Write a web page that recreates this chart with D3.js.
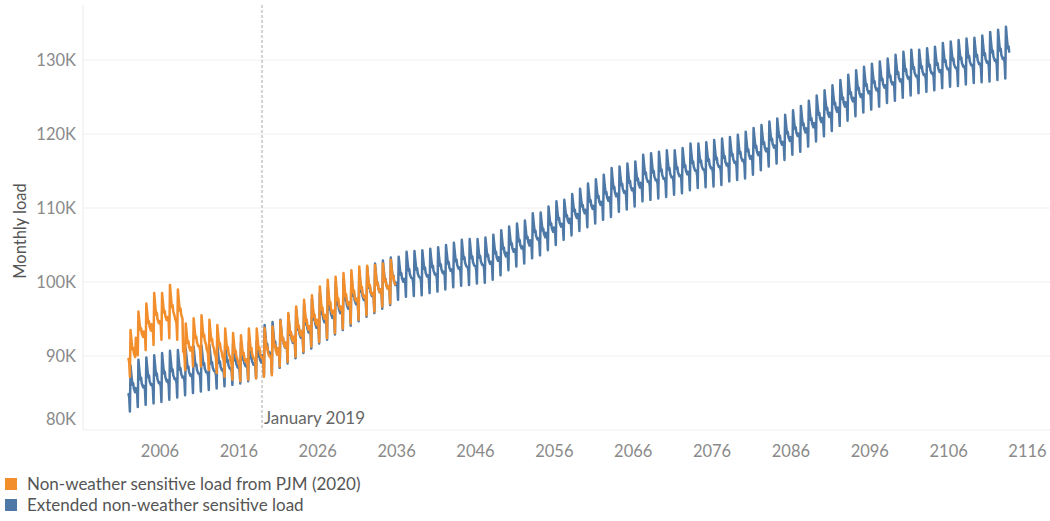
<!DOCTYPE html>
<html>
<head>
<meta charset="utf-8">
<script src="https://cdn.jsdelivr.net/npm/d3@7"></script>
<style>
    body { margin: 0; background: #fff; font-family: Lato, "Open Sans", sans-serif; }
    svg { display: block; }
</style>
</head>
<body>
<div id="chart"></div>
<script>
// share of the yearly swing (trough -> peak) for each calendar month, Jan..Dec
const seasonalShape = [0.40, 0.38, 0.30, 0.0, 1.0, 0.84, 0.70, 0.58, 0.62, 0.50, 0.46, 0.42];

// PJM series, 2002..2035 (values in K)
const pjmStartYear = 2002;
const pjmTrough = [87.2, 90.1, 90.8, 91.5, 92.2, 92.4, 92.2, 88.1, 88.6, 88.6, 88.1, 87.7, 87.2, 86.8, 86.6, 86.8, 87.0,
    87.2, 87.4, 88.6, 89.2, 89.9, 90.6, 91.3, 91.9, 92.4, 93.1, 93.7, 94.4, 94.9, 95.5, 96.0, 96.7, 97.1];
const pjmPeak = [93.5, 96.0, 97.1, 98.5, 98.5, 99.6, 99.0, 94.4, 95.1, 95.5, 94.9, 94.2, 93.7, 93.1, 92.8, 93.7, 93.7,
    93.8, 94.0, 94.8, 95.8, 96.7, 97.6, 98.2, 99.4, 100.3, 100.7, 101.2, 101.6, 102.1, 102.2, 102.3, 102.5, 103.0];
const pjmLastMonth = 11;

// extended series, 2002..2113 (values in K)
const extStartYear = 2002;
const extTrough = [
    82.5, 83.1, 83.4, 83.6, 83.8, 84.1, 84.4, 84.7, 85.0, 85.2, 85.4, 85.6, 85.9, 86.1, 86.3, 86.6, 87.0,
    87.4, 87.7, 88.4, 89.0, 89.7, 90.4, 91.0, 91.7, 92.2, 92.9, 93.5, 94.1, 94.7, 95.3, 95.8, 96.4, 96.9,
    97.6, 98.0, 98.1, 98.2, 98.5, 98.7, 99.0, 99.3, 99.5, 99.6, 99.8, 99.9, 100.3, 100.9, 101.6, 102.1,
    102.5, 103.2, 103.6, 104.3, 105.0, 105.7, 106.3, 106.9, 107.4, 107.9, 108.4, 108.8, 109.5, 109.8,
    110.2, 110.9, 111.1, 111.3, 111.5, 111.8, 112.0, 112.4, 112.7, 112.8, 112.9, 113.1, 113.6, 113.8,
    114.0, 114.5, 115.1, 115.6, 116.0, 116.5, 117.2, 117.6, 118.3, 119.0, 119.7, 120.4, 121.1, 121.8,
    122.4, 122.9, 123.3, 123.7, 124.2, 124.5, 124.9, 125.2, 125.5, 125.7, 125.9, 126.2, 126.4, 126.5,
    126.7, 126.9, 127.0, 127.1, 127.3, 127.5];
const extPeak = [
    88.7, 89.5, 89.8, 90.1, 90.4, 90.7, 90.8, 91.0, 91.3, 91.4, 91.5, 91.5, 91.6, 91.7, 91.8, 91.9, 92.0,
    94.2, 94.6, 94.9, 95.6, 96.3, 97.0, 97.7, 98.5, 99.2, 99.8, 100.4, 101.0, 101.5, 102.0, 102.5, 102.9, 103.3,
    103.4, 104.1, 104.2, 104.3, 104.5, 104.7, 105.0, 105.3, 105.7, 105.8, 105.8, 106.0, 106.4, 107.0, 107.5, 107.9,
    108.3, 109.3, 109.4, 110.2, 110.9, 111.1, 111.9, 112.6, 113.3, 113.9, 114.5, 115.4, 115.6, 116.0,
    116.3, 117.2, 117.4, 117.6, 117.8, 117.8, 118.1, 118.7, 118.7, 118.9, 119.2, 119.4, 119.6, 119.9,
    120.3, 120.8, 121.2, 121.7, 122.1, 122.6, 123.2, 123.8, 124.5, 125.2, 125.9, 126.6, 127.3, 128.0,
    128.6, 129.1, 129.5, 129.8, 130.2, 130.7, 131.1, 131.4, 131.4, 131.6, 131.8, 132.3, 132.5, 132.7,
    132.9, 133.0, 133.3, 133.8, 134.1, 134.5];
const extLastMonth = 9;

const yTicks = [80000, 90000, 100000, 110000, 120000, 130000];
const xTickYears = [2006, 2016, 2026, 2036, 2046, 2056, 2066, 2076, 2086, 2096, 2106, 2116];
const refDate = new Date(2019, 0, 1);
const refLabel = "January 2019";
const seriesNames = ["Non-weather sensitive load from PJM (2020)", "Extended non-weather sensitive load"];
const seriesColors = ["#f28e2b", "#4e79a7"];

function buildSeries(startYear, troughs, peaks, lastMonth) {
    const out = [];
    troughs.forEach((t, i) => {
        const p = peaks[i];
        const n = (i === troughs.length - 1) ? lastMonth + 1 : 12;
        for (let m = 0; m < n; m++) {
            out.push({ date: new Date(startYear + i, m, 1), value: (t + (p - t) * seasonalShape[m]) * 1000 });
        }
    });
    return out;
}

const pjmData = buildSeries(pjmStartYear, pjmTrough, pjmPeak, pjmLastMonth);
const extData = buildSeries(extStartYear, extTrough, extPeak, extLastMonth);

const width = 1050, height = 521;
const plotLeft = 83, plotRight = 1050, plotTop = 5, plotBottom = 430;

const svg = d3.select("#chart").append("svg")
    .attr("width", width)
    .attr("height", height);

const x = d3.scaleTime()
    .domain([new Date(2006, 0, 1), new Date(2116, 0, 1)])
    .range([159.5, 1027]);

const y = d3.scaleLinear()
    .domain([80000, 130000])
    .range([430, 60]);

// grid
svg.append("g")
    .selectAll("line")
    .data(yTicks)
    .join("line")
    .attr("x1", plotLeft)
    .attr("x2", plotRight)
    .attr("y1", d => y(d))
    .attr("y2", d => y(d))
    .attr("stroke", "#efefef");

svg.append("line")
    .attr("x1", plotLeft).attr("x2", plotLeft)
    .attr("y1", plotTop).attr("y2", plotBottom)
    .attr("stroke", "#ececec");

// y axis
const yAxis = svg.append("g")
    .attr("transform", `translate(${plotLeft},0)`)
    .call(d3.axisLeft(y).tickValues(yTicks).tickSize(0).tickPadding(7).tickFormat(d => d / 1000 + "K"));
yAxis.select(".domain").remove();
yAxis.selectAll("text")
    .attr("fill", "#8a8a8a")
    .style("font-family", "Lato, sans-serif")
    .style("font-size", "16.5px")
    .attr("transform", d => d === 80000 ? "translate(0,-11)" : null);

svg.append("text")
    .attr("transform", "translate(26,231) rotate(-90)")
    .attr("text-anchor", "middle")
    .attr("fill", "#555")
    .style("font-size", "16.5px")
    .text("Monthly load");

// x axis
const xAxis = svg.append("g")
    .attr("transform", `translate(0,${plotBottom})`)
    .call(d3.axisBottom(x)
        .tickValues(xTickYears.map(yr => new Date(yr, 0, 1)))
        .tickSize(0)
        .tickPadding(15)
        .tickFormat(d3.timeFormat("%Y")));
xAxis.select(".domain").remove();
xAxis.selectAll("text")
    .attr("fill", "#8a8a8a")
    .style("font-family", "Lato, sans-serif")
    .style("font-size", "16.5px");

// reference line
svg.append("line")
    .attr("x1", x(refDate)).attr("x2", x(refDate))
    .attr("y1", plotTop).attr("y2", plotBottom)
    .attr("stroke", "#a8a8a8")
    .attr("stroke-dasharray", "3,2");

svg.append("text")
    .attr("x", x(refDate) + 2)
    .attr("y", plotBottom - 6)
    .attr("fill", "#666")
    .style("font-size", "17px")
    .text(refLabel);

// lines
const line = d3.line()
    .x(d => x(d.date))
    .y(d => y(d.value));

svg.append("path")
    .datum(extData)
    .attr("fill", "none")
    .attr("stroke", seriesColors[1])
    .attr("stroke-width", 2.5)
    .attr("stroke-linejoin", "round")
    .attr("d", line);

svg.append("path")
    .datum(pjmData)
    .attr("fill", "none")
    .attr("stroke", seriesColors[0])
    .attr("stroke-width", 2.5)
    .attr("stroke-linejoin", "round")
    .attr("d", line);

// legend
const legend = svg.append("g")
    .selectAll("g")
    .data(seriesNames)
    .join("g")
    .attr("transform", (d, i) => `translate(5,${478 + i * 21})`);

legend.append("rect")
    .attr("width", 12)
    .attr("height", 12)
    .attr("fill", (d, i) => seriesColors[i]);

legend.append("text")
    .attr("x", 22)
    .attr("y", 12)
    .attr("fill", "#555")
    .style("font-size", "17px")
    .text(d => d);
</script>
</body>
</html>
